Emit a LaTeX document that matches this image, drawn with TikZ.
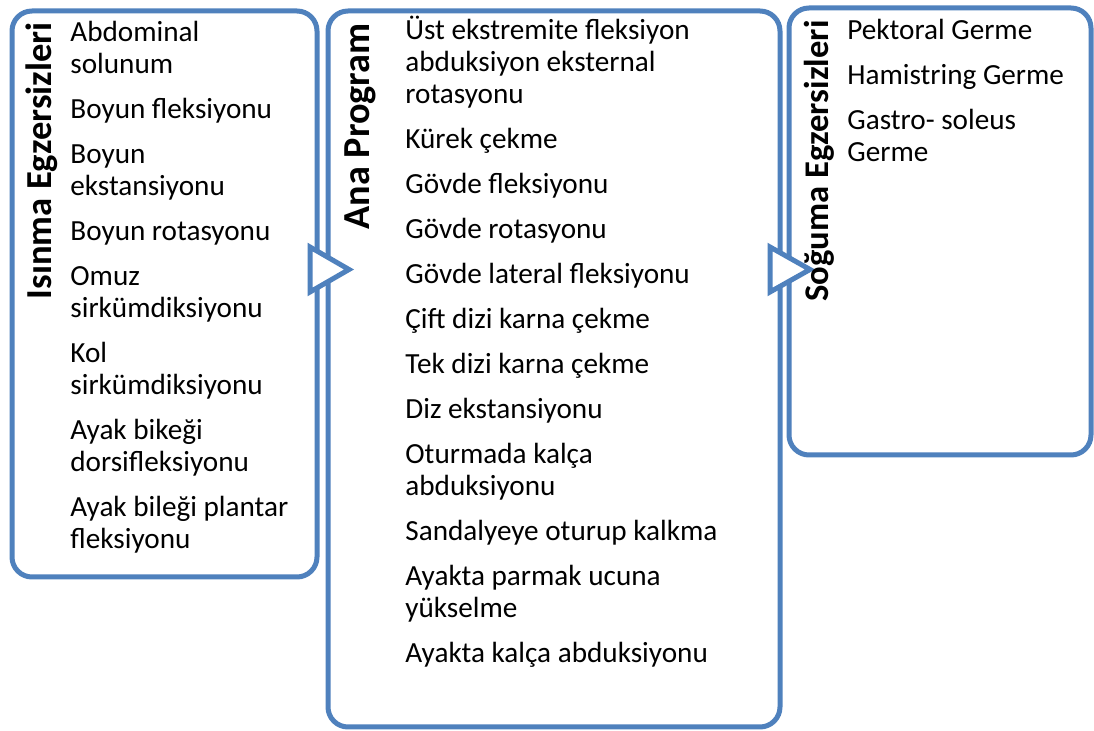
\documentclass[tikz,border=0pt]{standalone}
\usepackage{fontspec}
\setmainfont{Carlito}
\definecolor{mavi}{RGB}{79,129,189}
\tikzset{
  kutu/.style={draw=mavi, line width=2.5pt, rounded corners=10pt, fill=white},
  ok/.style={draw=mavi, line width=2.5pt, fill=white, line join=miter},
  baslik/.style={rotate=90, anchor=base east, inner sep=0pt, font=\fontsize{#1}{#1}\selectfont\bfseries},
  madde/.style={anchor=base west, align=left, inner sep=0pt, font=\fontsize{14.6}{16}\selectfont}
}
\begin{document}
\begin{tikzpicture}[x=0.5pt, y=-0.5pt]
      \useasboundingbox (0,0) rectangle (1094,731);
      % kutular
      \draw[kutu] (12,11) rectangle (317,577);
      \draw[kutu] (328,11) rectangle (780,727);
      \draw[kutu] (789,8) rectangle (1091,455);
      % oklar
      \draw[ok] (310,247) -- (349,269.5) -- (310,292) -- cycle;
      \draw[ok] (770,247) -- (810,269.5) -- (770,292) -- cycle;
      % basliklar
      \node[baslik=18.3] (isinma) at (52,22) {Isınma Egzersizleri};
      \node[baslik=19.1] (ana) at (369,23) {Ana Program};
      \node[baslik=17.3] (soguma) at (828,20) {Soğuma Egzersizleri};
      % isinma (son satirin tabani)
      \node[madde] (i1) at (70,74) {Abdominal\\solunum};
      \node[madde] (i2) at (70,119) {Boyun fleksiyonu};
      \node[madde] (i3) at (70,196) {Boyun\\ekstansiyonu};
      \node[madde] (i4) at (70,241) {Boyun rotasyonu};
      \node[madde] (i5) at (70,318) {Omuz\\sirkümdiksiyonu};
      \node[madde] (i6) at (70,395) {Kol\\sirkümdiksiyonu};
      \node[madde] (i7) at (70,472) {Ayak bikeği\\dorsifleksiyonu};
      \node[madde] (i8) at (70,549) {Ayak bileği plantar\\fleksiyonu};
      % ana program
      \node[madde] (a1) at (405,104) {Üst ekstremite fleksiyon\\abduksiyon eksternal\\rotasyonu};
      \node[madde] (a2) at (405,149) {Kürek çekme};
      \node[madde] (a3) at (405,194) {Gövde fleksiyonu};
      \node[madde] (a4) at (405,239) {Gövde rotasyonu};
      \node[madde] (a5) at (405,284) {Gövde lateral fleksiyonu};
      \node[madde] (a6) at (405,329) {Çift dizi karna çekme};
      \node[madde] (a7) at (405,374) {Tek dizi karna çekme};
      \node[madde] (a8) at (405,419) {Diz ekstansiyonu};
      \node[madde] (a9) at (405,496) {Oturmada kalça\\abduksiyonu};
      \node[madde] (a10) at (405,541) {Sandalyeye oturup kalkma};
      \node[madde] (a11) at (405,618) {Ayakta parmak ucuna\\yükselme};
      \node[madde] (a12) at (405,663) {Ayakta kalça abduksiyonu};
      % soguma
      \node[madde] (s1) at (847,40) {Pektoral Germe};
      \node[madde] (s2) at (847,85) {Hamistring Germe};
      \node[madde] (s3) at (847,162) {Gastro- soleus\\Germe};
\end{tikzpicture}
\end{document}
